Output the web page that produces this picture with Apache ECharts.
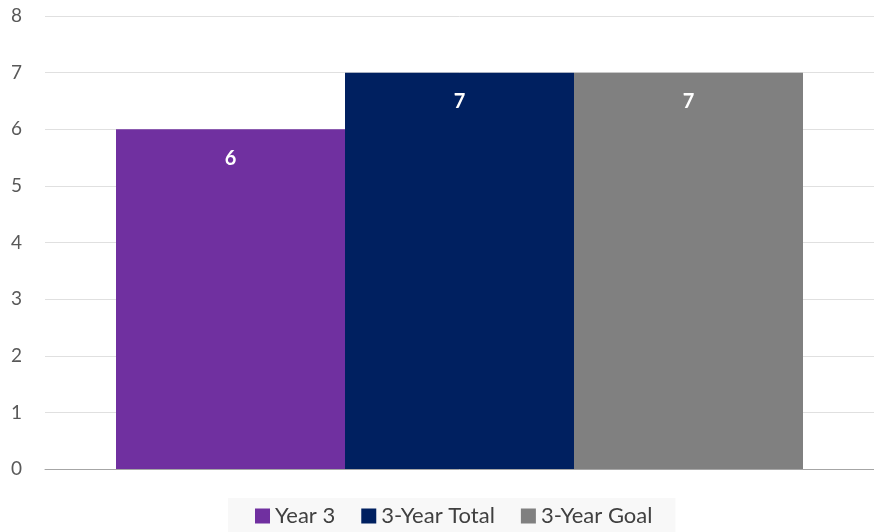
<!DOCTYPE html>
<html>
<head>
<meta charset="utf-8">
<script src="https://cdn.jsdelivr.net/npm/echarts@6/dist/echarts.min.js"></script>
<style>
  html, body { margin: 0; padding: 0; background: #fff; }
  #main { width: 874px; height: 532px; }
</style>
</head>
<body>
<div id="main"></div>
<script>
var categories = ["Total"];
var seriesNames = ["Year 3", "3-Year Total", "3-Year Goal"];
var seriesValues = [[6], [7], [7]];
var seriesColors = ["#7030A0", "#002060", "#808080"];
var yTicks = [0, 1, 2, 3, 4, 5, 6, 7, 8];

var myChart = echarts.init(document.getElementById("main"));

var series = seriesNames.map(function (name, i) {
  return {
    name: name,
    type: "bar",
    data: seriesValues[i],
    barWidth: 229,
    barGap: "0%",
    itemStyle: { color: seriesColors[i] },
    label: {
      show: true,
      position: "insideTop",
      distance: 19,
      color: "#fff",
      fontWeight: "bold",
      fontSize: 20,
      fontFamily: "Lato"
    }
  };
});

myChart.setOption({
  animation: false,
  grid: { left: 45, width: 834, top: 16, bottom: 63 },
  legend: {
    data: seriesNames,
    left: 228,
    top: 498,
    backgroundColor: "#f8f8f8",
    padding: [7, 23, 7, 27],
    itemWidth: 15,
    itemHeight: 15,
    itemGap: 26,
    icon: "rect",
    textStyle: { fontSize: 22, color: "#404040", fontFamily: "Lato" }
  },
  xAxis: {
    type: "category",
    data: categories,
    axisTick: { show: false },
    axisLabel: { show: false },
    axisLine: { lineStyle: { color: "#a6a6a6" } }
  },
  yAxis: {
    type: "value",
    min: yTicks[0],
    max: yTicks[yTicks.length - 1],
    interval: 1,
    axisLine: { show: false },
    axisTick: { show: false },
    axisLabel: { color: "#595959", fontSize: 19, fontFamily: "Lato", margin: 23 },
    splitLine: { lineStyle: { color: "#e0e0e0" } }
  },
  series: series
});
</script>
</body>
</html>
